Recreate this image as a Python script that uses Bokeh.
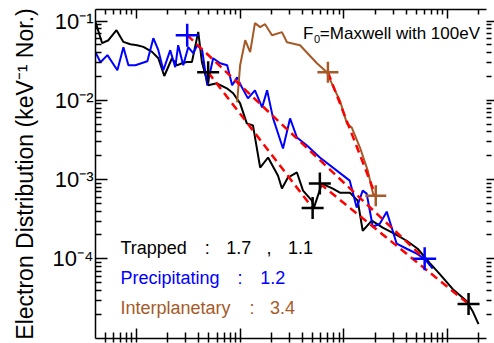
from bokeh.plotting import figure
from bokeh.models import Range1d, LogAxis, FixedTicker, CustomJSTickFormatter
from bokeh.embed import file_html
from bokeh.resources import INLINE
from bokeh.core.properties import value

# ---------------- data ----------------
trapped_energy = [0.403, 0.468, 0.538, 0.643, 0.750, 0.875, 1.016, 1.168, 1.416, 1.628,
                  1.858, 2.204, 2.463, 2.75, 3.07, 3.43, 3.95, 4.28, 4.92, 5.97,
                  7.45, 8.57, 10.0, 11.6, 13.3, 15.6, 18.6, 23.2, 25.3, 28.9,
                  35.3, 40.4, 49.2, 51.5, 61.4, 78.3, 91.5, 114, 136, 152,
                  186, 237, 309, 403, 515, 671, 837, 1117, 1523, 1738, 1986]
trapped_flux = [0.098, 0.0527, 0.0574, 0.0769, 0.0547, 0.0512, 0.0497, 0.0473, 0.0409, 0.0340,
                0.0203, 0.034, 0.0277, 0.0294, 0.0305, 0.0305, 0.0733, 0.0305, 0.0155, 0.0164,
                0.0142, 0.0123, 0.00917, 0.00512, 0.00483, 0.00142, 0.0019, 0.00112, 0.00077, 0.00106,
                0.00123, 0.000726, 0.000542, 0.000443, 0.00089, 0.00077, 0.000684, 0.000684, 0.000542, 0.000226,
                0.000303, 0.000247, 0.000207, 0.000169, 0.000134, 8.9e-5, 6.45e-5, 4.17e-5, 2.94e-5, 2.2e-5, 1.5e-5]

precip_energy = [0.403, 0.451, 0.526, 0.656, 0.750, 0.838, 0.978, 1.276, 1.457, 1.628,
                 1.82, 2.12, 2.37, 2.53, 2.83, 3.16, 3.53, 3.86, 4.31, 4.82,
                 5.50, 6.42, 7.50, 8.38, 9.36, 10.4, 11.9, 13.9, 16.3, 18.2,
                 20.8, 25.9, 30.3, 35.3, 44.1, 58.7, 114, 133, 152, 166,
                 190, 222, 259, 323, 403, 504, 601, 718]
precip_flux = [0.0406, 0.0303, 0.0372, 0.024, 0.0469, 0.0277, 0.0277, 0.0312, 0.061, 0.043,
               0.024, 0.043, 0.0262, 0.0497, 0.0277, 0.0469, 0.0394, 0.0497, 0.043, 0.0155,
               0.034, 0.0294, 0.0277, 0.0155, 0.0195, 0.0146, 0.0106, 0.0134, 0.00815, 0.0134,
               0.00592, 0.00247, 0.00592, 0.0034, 0.00269, 0.0019, 0.00097, 0.000443, 0.000726, 0.000665,
               0.000254, 0.000277, 0.000394, 0.000155, 0.000134, 0.000116, 0.0001, 7.5e-5]

interp_energy = [9.36, 10.0, 11.2, 12.5, 13.9, 15.6, 17.4, 20.3, 25.3, 28.3,
                 37.8, 55, 68.7, 81.9, 91.5, 107, 119, 143, 170, 186, 194]
interp_flux = [0.00944, 0.0277, 0.0574, 0.0406, 0.0944, 0.084, 0.0916, 0.0665, 0.0726, 0.0542,
               0.0497, 0.0294, 0.0226, 0.0134, 0.01, 0.00512, 0.00455, 0.00254, 0.0013, 0.00077, 0.00061]

# power-law fit segments (end points marked with crosses)
trapped_fit1_energy = [4.92, 50.0]
trapped_fit1_flux = [0.0226, 4.38e-4]
trapped_fit2_energy = [58.7, 1592]
trapped_fit2_flux = [8.9e-4, 2.69e-5]
precip_fit_energy = [3.09, 601]
precip_fit_flux = [0.0665, 1.0e-4]
interp_fit_energy = [70.2, 203]
interp_fit_flux = [0.0226, 6.26e-4]

trapped_index = ["1.7", "1.1"]
precip_index = ["1.2"]
interp_index = ["3.4"]

x_major_ticks = [1, 10, 100, 1000]
y_major_ticks = [1e-4, 1e-3, 1e-2, 1e-1]
y_tick_labels = ["10\u207b\u2074", "10\u207b\u00b3", "10\u207b\u00b2", "10\u207b\u00b9"]

# ---------------- styling ----------------
FONT = "Liberation Sans"
BLACK = "#000000"
BLUE = "#0000ff"
BROWN = "#a55a28"
RED = "#ff0000"

x_minor = [k * 10.0 ** d for d in range(-1, 4) for k in range(2, 10)]
y_minor = [k * 10.0 ** d for d in range(-6, 0) for k in range(2, 10)]

p = figure(width=494, height=343, x_axis_type="log", y_axis_type="log",
           x_range=Range1d(10 ** -0.394, 10 ** 3.375),
           y_range=Range1d(10 ** -5.006, 10 ** -0.853),
           output_backend="svg", toolbar_location=None,
           min_border_left=95, min_border_right=7, min_border_top=9, min_border_bottom=5)
p.outline_line_color = None
p.grid.visible = False
p.background_fill_color = "white"
p.border_fill_color = "white"

xt = FixedTicker(ticks=x_major_ticks, minor_ticks=x_minor)
yt = FixedTicker(ticks=y_major_ticks, minor_ticks=y_minor)


def blank_labels(ax):
    ax.formatter = CustomJSTickFormatter(code="return ' ';")
    ax.major_label_text_font_size = "1px"
    ax.major_label_text_alpha = 0
    ax.major_label_standoff = 0


# bottom axis
xa = p.xaxis[0]
xa.ticker = xt
blank_labels(xa)
xa.major_tick_in = 10
xa.major_tick_out = 4
xa.minor_tick_in = 6
xa.minor_tick_out = 4
xa.axis_line_width = 1.5
xa.major_tick_line_width = 1.5
xa.minor_tick_line_width = 1.5

# left axis
ya = p.yaxis[0]
ya.ticker = yt
ya.formatter = CustomJSTickFormatter(
    args=dict(vals=y_major_ticks, labels=y_tick_labels),
    code="""
    for (let i = 0; i < vals.length; i++) {
        if (Math.abs(Math.log10(vals[i]) - Math.log10(tick)) < 1e-6) { return labels[i]; }
    }
    return '';
    """)
ya.major_label_text_font = FONT
ya.major_label_text_font_size = "22px"
ya.major_label_text_color = BLACK
ya.major_label_standoff = 2
ya.major_tick_in = 12
ya.major_tick_out = 0
ya.minor_tick_in = 6
ya.minor_tick_out = 0
ya.axis_line_width = 1.5
ya.major_tick_line_width = 1.5
ya.minor_tick_line_width = 1.5
ya.axis_label = "Electron Distribution (keV\u207b\u00b9 Nor.)"
ya.axis_label_text_font = FONT
ya.axis_label_text_font_size = "23px"
ya.axis_label_text_font_style = "normal"
ya.axis_label_text_color = BLACK
ya.axis_label_standoff = 12

# top axis
ta = LogAxis(ticker=xt, major_tick_in=9, major_tick_out=0, minor_tick_in=5, minor_tick_out=0,
             axis_line_width=1.5, major_tick_line_width=1.5, minor_tick_line_width=1.5)
blank_labels(ta)
p.add_layout(ta, "above")

# right axis
ra = LogAxis(ticker=yt, major_tick_in=0, major_tick_out=8, minor_tick_in=0, minor_tick_out=5,
             axis_line_color=None, major_tick_line_width=1.5, minor_tick_line_width=1.5)
blank_labels(ra)
p.add_layout(ra, "right")

# data lines
p.line(trapped_energy, trapped_flux, line_color=BLACK, line_width=2)
p.line(precip_energy, precip_flux, line_color=BLUE, line_width=2)
p.line(interp_energy, interp_flux, line_color=BROWN, line_width=2)

# fit lines
for fx, fy in [(trapped_fit1_energy, trapped_fit1_flux), (trapped_fit2_energy, trapped_fit2_flux),
               (precip_fit_energy, precip_fit_flux), (interp_fit_energy, interp_fit_flux)]:
    p.line(fx, fy, line_color=RED, line_width=2.5, line_dash="8 5")

# crosses at fit end points
p.scatter(trapped_fit1_energy + trapped_fit2_energy, trapped_fit1_flux + trapped_fit2_flux,
          marker="cross", size=22, line_color=BLACK, line_width=2.5)
p.scatter(precip_fit_energy, precip_fit_flux, marker="cross", size=23, line_color=BLUE, line_width=2.5)
p.scatter(interp_fit_energy, interp_fit_flux, marker="cross", size=21, line_color=BROWN, line_width=2.5)

# annotations
def txt(x, y, s, color, size="18px", align="left"):
    p.text(x=[x], y=[y], text=[s], text_color=color, text_font=value(FONT),
           text_font_size=size, text_align=align, text_baseline="middle")

y_tr, y_pr, y_ip = 1.38e-4, 5.74e-5, 2.40e-5
txt(0.702, y_tr, "Trapped", BLACK)
txt(4.82, y_tr, ":", BLACK, align="center")
txt(7.34, y_tr, trapped_index[0], BLACK)
txt(19.0, y_tr, ",", BLACK, align="center")
txt(28.9, y_tr, trapped_index[1], BLACK)

txt(0.702, y_pr, "Precipitating", BLUE)
txt(10.0, y_pr, ":", BLUE, align="center")
txt(15.6, y_pr, precip_index[0], BLUE)

txt(0.702, y_ip, "Interplanetary", BROWN)
txt(13.0, y_ip, ":", BROWN, align="center")
txt(19.4, y_ip, interp_index[0], BROWN)

txt(40.4, 0.0705, "F", BLACK, size="17px")
txt(51.5, 0.0591, "0", BLACK, size="11px")
txt(58.7, 0.0705, "=Maxwell with 100eV", BLACK, size="17px")

open("out.html", "w").write(file_html(p, INLINE))
